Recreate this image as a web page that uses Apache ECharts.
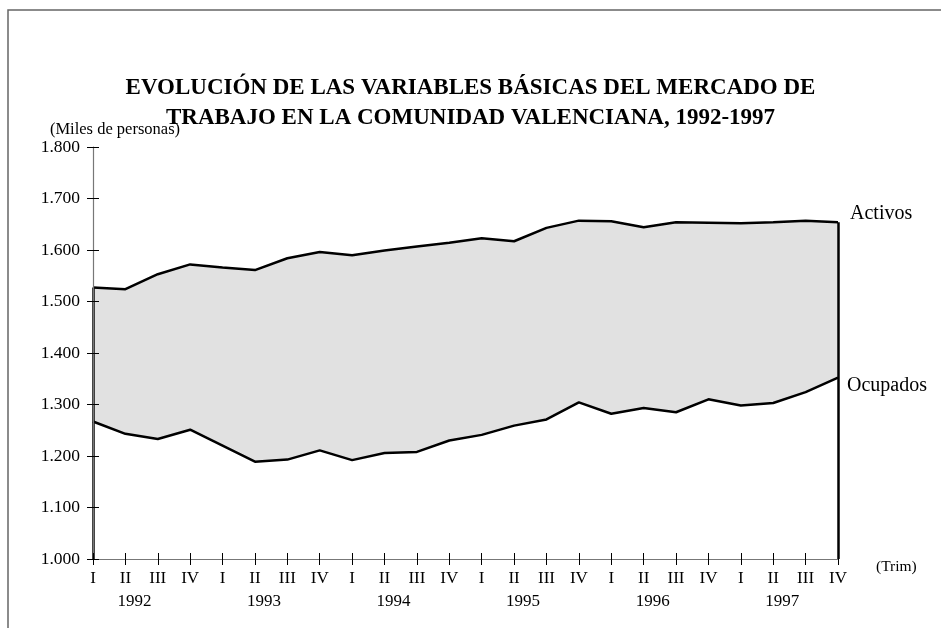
<!DOCTYPE html>
<html>
<head>
<meta charset="utf-8">
<script src="https://cdn.jsdelivr.net/npm/echarts@6/dist/echarts.min.js"></script>
<style>
  html, body { margin: 0; padding: 0; background: #fff; }
  #chart { width: 941px; height: 628px; }
</style>
</head>
<body>
<div id="chart"></div>
<script>
// trimestres 1992-1997
var quarters = ['I', 'II', 'III', 'IV', 'I', 'II', 'III', 'IV', 'I', 'II', 'III', 'IV',
    'I', 'II', 'III', 'IV', 'I', 'II', 'III', 'IV', 'I', 'II', 'III', 'IV'];
var years = ['1992', '1993', '1994', '1995', '1996', '1997'];
// miles de personas
var activos = [1527, 1524, 1553, 1572, 1566, 1561, 1584, 1596, 1590, 1599, 1607, 1614,
    1623, 1617, 1643, 1657, 1656, 1644, 1654, 1653, 1652, 1654, 1657, 1654];
var ocupados = [1267, 1243, 1233, 1251, 1220, 1189, 1193, 1211, 1192, 1206, 1208, 1230,
    1241, 1259, 1271, 1304, 1282, 1293, 1285, 1310, 1298, 1303, 1324, 1352];
var yTicks = [1000, 1100, 1200, 1300, 1400, 1500, 1600, 1700, 1800];

var serif = 'Liberation Serif';
var last = activos.length - 1;

function fmtMiles(v) {
    return String(v).replace(/\B(?=(\d{3})+(?!\d))/g, '.');
}

var chart = echarts.init(document.getElementById('chart'));
var option = {
    backgroundColor: '#fff',
    animation: false,
    title: {
        text: 'EVOLUCIÓN DE LAS VARIABLES BÁSICAS DEL MERCADO DE\nTRABAJO EN LA COMUNIDAD VALENCIANA, 1992-1997',
        left: 'center',
        top: 68,
        textStyle: {
            fontFamily: serif,
            fontWeight: 'bold',
            fontSize: 23,
            lineHeight: 30,
            color: '#000'
        }
    },
    graphic: [{
        type: 'rect',
        shape: { x: 8, y: 10, width: 1000, height: 1000 },
        style: { fill: 'none', stroke: '#666', lineWidth: 1.5 },
        silent: true
    }, {
        type: 'text',
        left: 418,
        top: 315,
        style: { text: 'Parados', fontFamily: serif, fontSize: 20, fill: '#000' }
    }],
    grid: { left: 93, right: 103, top: 147, bottom: 69 },
    xAxis: [{
        type: 'category',
        data: quarters,
        boundaryGap: false,
        z: 10,
        name: '(Trim)',
        nameLocation: 'end',
        nameGap: 38,
        nameTextStyle: { fontFamily: serif, fontSize: 15.5, color: '#000', verticalAlign: 'top' },
        axisLine: { lineStyle: { color: '#777', width: 1.2 } },
        axisTick: { show: true, interval: 0, length: 6, lineStyle: { color: '#000', width: 1 } },
        axisLabel: { interval: 0, margin: 11, fontFamily: serif, fontSize: 17, color: '#000' },
        splitLine: { show: false }
    }, {
        type: 'category',
        data: quarters,
        boundaryGap: false,
        position: 'bottom',
        z: 10,
        axisLine: { show: false },
        axisTick: { show: true, inside: true, interval: 0, length: 6, lineStyle: { color: '#000', width: 1 } },
        axisLabel: {
            interval: 0,
            margin: 34,
            fontFamily: serif,
            fontSize: 17,
            color: '#000',
            padding: [0, 0, 0, 18],
            formatter: function(v, i) {
                return i % 4 === 1 ? years[(i - 1) / 4] : '';
            }
        },
        splitLine: { show: false }
    }],
    yAxis: [{
        type: 'value',
        min: yTicks[0],
        max: yTicks[yTicks.length - 1],
        interval: 100,
        z: 10,
        name: '(Miles de personas)',
        nameLocation: 'end',
        nameGap: 9,
        nameTextStyle: { fontFamily: serif, fontSize: 16.5, color: '#000', align: 'center', padding: [0, 0, 0, 44] },
        axisLine: { show: true, lineStyle: { color: '#777', width: 1.2 } },
        axisTick: { show: true, length: 6, lineStyle: { color: '#000', width: 1 } },
        axisLabel: { margin: 13, fontFamily: serif, fontSize: 17.5, color: '#000', formatter: fmtMiles },
        splitLine: { show: false }
    }, {
        type: 'value',
        min: yTicks[0],
        max: yTicks[yTicks.length - 1],
        interval: 100,
        position: 'left',
        z: 10,
        axisLine: { show: false },
        axisTick: { show: true, inside: true, length: 6, lineStyle: { color: '#000', width: 1 } },
        axisLabel: { show: false },
        splitLine: { show: false }
    }],
    series: [{
        name: 'Activos',
        type: 'line',
        data: activos,
        symbol: 'none',
        z: 2,
        lineStyle: { color: '#000', width: 2.5 },
        areaStyle: { color: '#e1e1e1', opacity: 1, origin: 'start' },
        endLabel: {
            show: true,
            formatter: 'Activos',
            distance: 12,
            offset: [0, -8],
            fontFamily: serif,
            fontSize: 20,
            color: '#000'
        }
    }, {
        name: 'Ocupados',
        type: 'line',
        data: ocupados,
        symbol: 'none',
        z: 3,
        lineStyle: { color: '#000', width: 2.5 },
        areaStyle: { color: '#fff', opacity: 1, origin: 'start' },
        endLabel: {
            show: true,
            formatter: 'Ocupados',
            distance: 9,
            offset: [0, 8],
            fontFamily: serif,
            fontSize: 20,
            color: '#000'
        }
    }, {
        // bordes verticales del área
        name: 'bordes',
        type: 'line',
        data: [],
        z: 12,
        markLine: {
            silent: true,
            symbol: 'none',
            label: { show: false },
            lineStyle: { color: '#000', width: 2.5, type: 'solid' },
            data: [
                [{ coord: [0, yTicks[0]] }, { coord: [0, activos[0]] }],
                [{ coord: [last, yTicks[0]] }, { coord: [last, activos[last]] }]
            ]
        }
    }]
};
chart.setOption(option);
</script>
</body>
</html>
